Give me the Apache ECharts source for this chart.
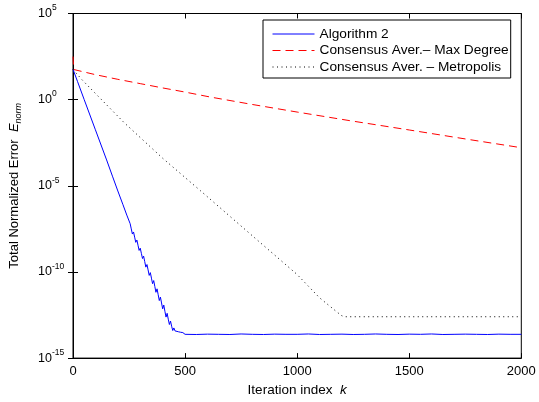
<!DOCTYPE html>
<html>
<head>
<meta charset="utf-8">
<script src="https://cdn.jsdelivr.net/npm/echarts@6/dist/echarts.min.js"></script>
<style>
html,body{margin:0;padding:0;background:#fff;}
#chart{width:539px;height:402px;}
</style>
</head>
<body>
<div id="chart"></div>
<script>
// ---- Data (log10 of the error) ----
const seriesNames = ['Algorithm 2', 'Consensus Aver.\u2013 Max Degree', 'Consensus Aver. \u2013 Metropolis'];

const algo2Iter = [0, 20, 50, 100, 150, 176, 200, 223, 240, 255,
  260, 265, 270, 275, 280, 285, 290, 295, 300, 305, 310, 315, 320, 325, 330, 335, 340, 345, 350, 355,
  360, 365, 370, 375, 380, 385, 390, 395, 400, 405, 410, 415, 420, 425, 430, 435, 440, 445, 450, 455,
  460, 470, 480, 490, 500, 550, 600, 650, 700, 750, 800, 850, 900, 950, 1000, 1050, 1100, 1150, 1200,
  1250, 1300, 1350, 1400, 1450, 1500, 1550, 1600, 1650, 1700, 1750, 1800, 1850, 1900, 1950, 2000];
const algo2Log10 = [1.76, 1.06, 0.0, -1.75, -3.5, -4.44, -5.3, -6.1, -6.7, -7.2,
  -7.50, -7.80, -7.68, -7.98, -8.28, -8.15, -8.45, -8.75, -8.62, -8.92, -9.22, -9.08, -9.40, -9.72, -9.57, -9.88, -10.2, -10.04, -10.36, -10.68,
  -10.5, -10.84, -11.18, -10.98, -11.32, -11.66, -11.46, -11.8, -12.14, -11.92, -12.28, -12.62, -12.4, -12.74, -13.05, -12.85, -13.15, -13.4, -13.25, -13.42,
  -13.48, -13.47, -13.5, -13.52, -13.62, -13.63, -13.61, -13.62, -13.63, -13.60, -13.62, -13.63, -13.61, -13.62, -13.62, -13.60, -13.63, -13.62, -13.61,
  -13.63, -13.62, -13.60, -13.62, -13.63, -13.61, -13.62, -13.60, -13.63, -13.62, -13.61, -13.62, -13.63, -13.61, -13.62, -13.62];

const maxDegIter = [0, 3, 10, 100, 200, 300, 400, 500, 613, 800, 1000, 1235, 1500, 1750, 2000];
const maxDegLog10 = [2.5, 1.75, 1.7, 1.45, 1.18, 0.93, 0.68, 0.44, 0.15, -0.28, -0.72, -1.22, -1.76, -2.28, -2.79];

const metroIter = [0, 42, 100, 227, 400, 569, 800, 1000, 1100, 1180, 1200, 1215, 1500, 2000];
const metroLog10 = [1.75, 1.13, 0.36, -1.32, -3.4, -5.29, -7.9, -10.15, -11.5, -12.35, -12.55, -12.6, -12.6, -12.6];

const xTicks = [0, 500, 1000, 1500, 2000];
const yTickExponents = [-15, -10, -5, 0, 5];

function pairs(xs, ls) { return xs.map((x, i) => [x, Math.pow(10, ls[i])]); }

const FONT = '"Liberation Sans", Arial, Helvetica, sans-serif';
const chart = echarts.init(document.getElementById('chart'), null, {renderer: 'canvas'});

const yLabelFmt = function (v) {
  const e = Math.round(Math.log10(v));
  return '{b|10}{s|' + (e < 0 ? '-' + (-e) : e) + '}';
};

chart.setOption({
  animation: false,
  backgroundColor: '#fff',
  grid: {left: 72.3, right: 17.7, top: 13.5, bottom: 35.5, show: true, borderColor: '#000', borderWidth: 1, backgroundColor: 'transparent'},
  legend: {
    left: 263, top: 20, orient: 'vertical',
    data: seriesNames,
    itemWidth: 42, itemHeight: 14, itemGap: 2.5,
    padding: [7, 2, 4, 9],
    borderColor: '#000', borderWidth: 1, backgroundColor: '#fff',
    itemStyle: {opacity: 0},
    lineStyle: {width: 1},
    textStyle: {fontFamily: FONT, fontSize: 13.7, color: '#000'}
  },
  xAxis: [{
    type: 'value', min: xTicks[0], max: xTicks[xTicks.length - 1], interval: 500,
    name: '{a|Iteration index  }{k|k}', nameLocation: 'middle', nameGap: 19,
    nameTextStyle: {rich: {a: {fontFamily: FONT, fontSize: 13.5, color: '#000'}, k: {fontFamily: FONT, fontSize: 13.5, fontStyle: 'italic', color: '#000'}}},
    axisLine: {show: true, lineStyle: {color: '#000', width: 1}},
    axisTick: {show: true, inside: true, length: 5, lineStyle: {color: '#000'}},
    axisLabel: {fontFamily: FONT, fontSize: 13, color: '#000', margin: 7, formatter: function (v) { return String(v); }},
    splitLine: {show: false}
  }, {
    type: 'value', position: 'top', min: xTicks[0], max: xTicks[xTicks.length - 1], interval: 500,
    axisLine: {show: true, lineStyle: {color: '#000', width: 1}},
    axisTick: {show: true, inside: true, length: 5, lineStyle: {color: '#000'}},
    axisLabel: {show: false}, splitLine: {show: false}
  }],
  yAxis: [{
    type: 'log', logBase: 10, min: Math.pow(10, yTickExponents[0]), max: Math.pow(10, yTickExponents[yTickExponents.length - 1]), interval: 5,
    name: '{a|Total Normalized Error  }{e|E}{n|norm}', nameLocation: 'middle', nameGap: 50, nameRotate: 90,
    nameTextStyle: {rich: {
      a: {fontFamily: FONT, fontSize: 13, color: '#000'},
      e: {fontFamily: FONT, fontSize: 13, fontStyle: 'italic', color: '#000'},
      n: {fontFamily: FONT, fontSize: 9, fontStyle: 'italic', color: '#000', padding: [8, 0, 0, 0]}
    }},
    axisLine: {show: true, lineStyle: {color: '#000', width: 1}},
    axisTick: {show: true, inside: true, length: 5, lineStyle: {color: '#000'}},
    axisLabel: {
      formatter: yLabelFmt, align: 'left', margin: 35, color: '#000',
      rich: {
        b: {fontFamily: FONT, fontSize: 12.5, color: '#000', verticalAlign: 'middle'},
        s: {fontFamily: FONT, fontSize: 8.5, color: '#000', verticalAlign: 'middle', padding: [0, 0, 11, 0]}
      }
    },
    splitLine: {show: false}
  }, {
    type: 'log', logBase: 10, position: 'right', min: Math.pow(10, yTickExponents[0]), max: Math.pow(10, yTickExponents[yTickExponents.length - 1]), interval: 5,
    axisLine: {show: true, lineStyle: {color: '#000', width: 1}},
    axisTick: {show: true, inside: true, length: 5, lineStyle: {color: '#000'}},
    axisLabel: {show: false}, splitLine: {show: false}
  }],
  series: [{
    name: seriesNames[0], type: 'line', symbol: 'none', data: pairs(algo2Iter, algo2Log10),
    lineStyle: {color: '#0000ff', width: 1}, itemStyle: {color: '#0000ff'}
  }, {
    name: seriesNames[1], type: 'line', symbol: 'none', data: pairs(maxDegIter, maxDegLog10),
    lineStyle: {color: '#ff0000', width: 1, type: [8, 5]}, itemStyle: {color: '#ff0000'}
  }, {
    name: seriesNames[2], type: 'line', symbol: 'none', data: pairs(metroIter, metroLog10),
    lineStyle: {color: '#000000', width: 1, type: [1, 3.5]}, itemStyle: {color: '#000000'}
  }]
});
</script>
</body>
</html>
